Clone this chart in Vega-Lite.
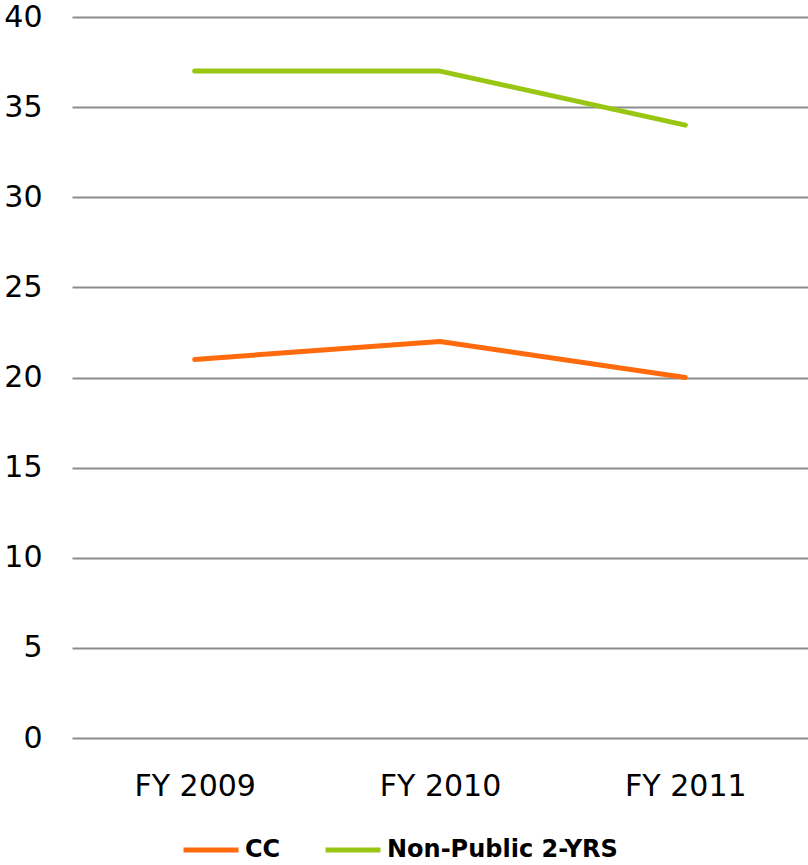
{
  "$schema": "https://vega.github.io/schema/vega-lite/v6.json",
  "width": 736,
  "height": 721,
  "autosize": {"type": "none"},
  "padding": {"left": 72, "top": 17, "right": 0, "bottom": 127},
  "background": "white",
  "data": {"values": [
    {"year": "FY 2009", "series": "CC", "value": 21},
    {"year": "FY 2010", "series": "CC", "value": 22},
    {"year": "FY 2011", "series": "CC", "value": 20},
    {"year": "FY 2009", "series": "Non-Public 2-YRS", "value": 37},
    {"year": "FY 2010", "series": "Non-Public 2-YRS", "value": 37},
    {"year": "FY 2011", "series": "Non-Public 2-YRS", "value": 34}
  ]},
  "config": {
    "view": {"stroke": null},
    "font": "DejaVu Sans"
  },
  "mark": {"type": "line", "strokeWidth": 5, "strokeCap": "round", "strokeJoin": "round"},
  "encoding": {
    "x": {
      "field": "year", "type": "ordinal",
      "scale": {"type": "point", "padding": 0.5},
      "axis": {"title": null, "labelAngle": 0, "domain": false, "ticks": false, "grid": false,
               "labelFontSize": 30, "labelColor": "#000", "labelPadding": 33, "labelFont": "DejaVu Sans"}
    },
    "y": {
      "field": "value", "type": "quantitative",
      "scale": {"domain": [0, 40]},
      "axis": {"title": null, "values": [0,5,10,15,20,25,30,35,40], "domain": false, "ticks": false,
               "grid": true, "gridColor": "#8c8c8c", "gridWidth": 2,
               "labelFontSize": 30, "labelColor": "#000", "labelPadding": 30, "labelFont": "DejaVu Sans"}
    },
    "color": {
      "field": "series", "type": "nominal",
      "scale": {"domain": ["CC", "Non-Public 2-YRS"], "range": ["#FF6A0D", "#99C612"]},
      "legend": {"title": null, "orient": "none", "legendX": 109, "legendY": 803, "direction": "horizontal",
                 "symbolType": "stroke", "symbolSize": 3025, "symbolStrokeWidth": 5,
                 "labelFontSize": 24, "labelFontWeight": "bold", "labelColor": "#000", "labelLimit": 400,
                 "labelFont": "DejaVu Sans", "columnPadding": 34, "labelOffset": 4}
    }
  }
}
